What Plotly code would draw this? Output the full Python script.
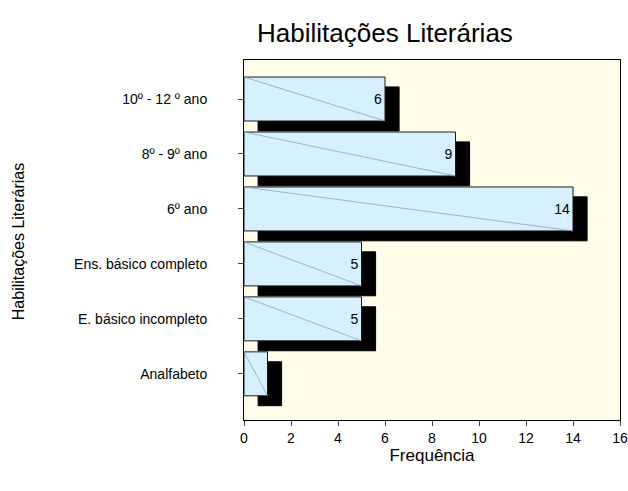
import plotly.graph_objects as go

# categories from bottom to top
categorias = ['Analfabeto', 'E. básico incompleto', 'Ens. básico completo',
              '6º ano', '8º - 9º ano', '10º - 12 º ano']
frequencias = [1, 5, 5, 14, 9, 6]

posicoes = list(range(len(categorias)))
sombra_dx = 0.6     # shadow shift to the right (x units)
sombra_dy = 0.18    # shadow shift down (category units)
largura = 0.8

fig = go.Figure()

# black drop shadow behind each bar
fig.add_trace(go.Bar(
    y=[p - sombra_dy for p in posicoes],
    x=frequencias,
    base=sombra_dx,
    orientation='h',
    width=largura,
    marker=dict(color='black', line=dict(color='black', width=1)),
    hoverinfo='skip',
    showlegend=False))

# main bars (the value is not printed when the bar is too short)
fig.add_trace(go.Bar(
    y=posicoes,
    x=frequencias,
    orientation='h',
    width=largura,
    text=[str(v) if v > 1 else '' for v in frequencias],
    textposition='inside',
    insidetextanchor='end',
    textfont=dict(color='black', size=14),
    marker=dict(color='#D6F0FF', line=dict(color='#1a1a1a', width=1)),
    showlegend=False))

# thin diagonal lines inside the bars
for p, v in zip(posicoes, frequencias):
    fig.add_shape(type='line', x0=0, y0=p + largura / 2, x1=v, y1=p - largura / 2,
                  line=dict(color='#8FA3B5', width=0.8))

# y axis title placed by hand, far left like the original
fig.add_annotation(text='Habilitações Literárias', textangle=-90,
                   x=-0.601, y=0.494, xref='paper', yref='paper',
                   xanchor='center', yanchor='middle', showarrow=False,
                   font=dict(size=16))

fig.update_layout(
    width=628, height=491,
    title=dict(text='Habilitações Literárias', x=0.613, xanchor='center',
               y=0.933, yanchor='middle', font=dict(size=26, color='black')),
    font=dict(family='Liberation Sans, Arial, sans-serif', color='black', size=14),
    paper_bgcolor='white',
    plot_bgcolor='#FFFEEA',
    barmode='overlay',
    margin=dict(l=244, r=8, t=60, b=71),
    xaxis=dict(range=[0, 16], dtick=2, ticks='outside', ticklen=5,
               showgrid=False, zeroline=False, showline=True, linecolor='black',
               linewidth=1, mirror=True, tickfont=dict(size=14), automargin=False,
               title=dict(text='Frequência', font=dict(size=17), standoff=4)),
    yaxis=dict(range=[-0.84, 5.71], tickvals=posicoes, ticktext=categorias,
               ticks='outside', ticklen=5, showgrid=False, zeroline=False,
               showline=True, linecolor='black', linewidth=1, mirror=True,
               tickfont=dict(size=14), ticklabelstandoff=28, automargin=False),
)

# drop the default 8px page margin so the figure fills the window exactly
fig.write_html("out.html", config={'displayModeBar': False},
               post_script="document.body.style.margin = '0';")
